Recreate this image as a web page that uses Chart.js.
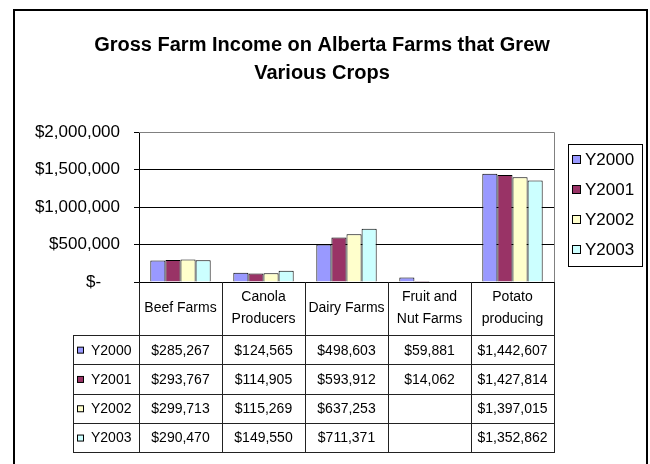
<!DOCTYPE html>
<html>
<head>
<meta charset="utf-8">
<script src="https://cdn.jsdelivr.net/npm/chart.js@4"></script>
<style>
    html, body { margin: 0; padding: 0; background: #fff; }
    #wrap { width: 650px; height: 464px; }
</style>
</head>
<body>
<div id="wrap"><canvas id="farmChart" width="650" height="464"></canvas></div>
<script>
// Farm types and the gross income per year
const titleLines = ['Gross Farm Income on Alberta Farms that Grew', 'Various Crops'];
const categories = ['Beef Farms', 'Canola Producers', 'Dairy Farms', 'Fruit and Nut Farms', 'Potato producing'];
const headerLines = [['Beef Farms'], ['Canola', 'Producers'], ['Dairy Farms'], ['Fruit and', 'Nut Farms'], ['Potato', 'producing']];
const seriesNames = ['Y2000', 'Y2001', 'Y2002', 'Y2003'];
const y2000 = [285267, 124565, 498603, 59881, 1442607];
const y2001 = [293767, 114905, 593912, 14062, 1427814];
const y2002 = [299713, 115269, 637253, null, 1397015];
const y2003 = [290470, 149550, 711371, null, 1352862];
const yTicks = [0, 500000, 1000000, 1500000, 2000000];

const colors = ['#9999FF', '#993366', '#FFFFCC', '#CCFFFF'];
const FONT = "'Liberation Sans', Arial, sans-serif";

const money = v => '$' + v.toLocaleString('en-US');

// outer frame, title, plot border, legend box and data table under the bars
const excelBits = {
    id: 'excelBits',
    beforeDraw(chart) {
        const ctx = chart.ctx;
        ctx.save();
        ctx.fillStyle = '#fff';
        ctx.fillRect(0, 0, chart.width, chart.height);
        ctx.strokeStyle = '#000';
        ctx.lineWidth = 2;
        ctx.strokeRect(14, 10, 633, 480);

        ctx.fillStyle = '#000';
        ctx.font = 'bold 20px ' + FONT;
        ctx.textAlign = 'center';
        ctx.textBaseline = 'middle';
        titleLines.forEach((t, k) => ctx.fillText(t, 322, 45 + k * 28));
        ctx.restore();
    },
    afterDraw(chart) {
        const ctx = chart.ctx;
        const area = chart.chartArea;
        const x = chart.scales.x;
        const n = categories.length;
        const colW = (area.right - area.left) / n;

        ctx.save();
        // grey plot border top / right
        ctx.strokeStyle = '#808080';
        ctx.lineWidth = 1;
        ctx.beginPath();
        ctx.moveTo(area.left, area.top + 0.5);
        ctx.lineTo(area.right + 0.5, area.top + 0.5);
        ctx.lineTo(area.right + 0.5, area.bottom);
        ctx.stroke();

        // data table
        const tableLeft = 73;
        const headTop = area.bottom;
        const headH = 53;
        const rowH = 29.3;
        const bodyTop = headTop + headH;
        const tableBottom = bodyTop + rowH * seriesNames.length;

        ctx.strokeStyle = '#222';
        ctx.beginPath();
        for (let i = 0; i <= n; i++) {
            const lx = Math.round(area.left + colW * i) + 0.5;
            ctx.moveTo(lx, headTop);
            ctx.lineTo(lx, tableBottom);
        }
        ctx.moveTo(tableLeft + 0.5, bodyTop);
        ctx.lineTo(tableLeft + 0.5, tableBottom);
        for (let r = 0; r <= seriesNames.length; r++) {
            const ly = Math.round(bodyTop + rowH * r) + 0.5;
            ctx.moveTo(tableLeft, ly);
            ctx.lineTo(area.right + 1, ly);
        }
        ctx.stroke();

        ctx.fillStyle = '#000';
        ctx.font = '14px ' + FONT;
        ctx.textAlign = 'center';
        ctx.textBaseline = 'middle';
        headerLines.forEach((lines, i) => {
            const cx = x.getPixelForValue(i);
            const cy = headTop + headH / 2;
            lines.forEach((t, k) => {
                ctx.fillText(t, cx, cy + (k - (lines.length - 1) / 2) * 22);
            });
        });

        chart.data.datasets.forEach((ds, r) => {
            const cy = bodyTop + rowH * r + rowH / 2 + 1;
            ctx.fillStyle = ds.backgroundColor;
            ctx.fillRect(77.5, cy - 3.5, 6, 6);
            ctx.strokeStyle = '#000';
            ctx.strokeRect(77.5, cy - 3.5, 6, 6);
            ctx.fillStyle = '#000';
            ctx.textAlign = 'left';
            ctx.fillText(ds.label, 91, cy);
            ctx.textAlign = 'center';
            ds.data.forEach((v, i) => {
                if (v == null) return;
                ctx.fillText(money(v), x.getPixelForValue(i), cy);
            });
        });

        // legend box
        ctx.strokeStyle = '#000';
        ctx.strokeRect(568.5, 144.5, 74, 122);
        ctx.font = '17px ' + FONT;
        ctx.textAlign = 'left';
        chart.data.datasets.forEach((ds, r) => {
            const cy = 160 + r * 30;
            ctx.fillStyle = ds.backgroundColor;
            ctx.fillRect(572.5, cy - 4.5, 8, 8);
            ctx.strokeRect(572.5, cy - 4.5, 8, 8);
            ctx.fillStyle = '#000';
            ctx.fillText(ds.label, 585, cy);
        });
        ctx.restore();
    }
};

const seriesData = [y2000, y2001, y2002, y2003];

new Chart(document.getElementById('farmChart'), {
    type: 'bar',
    data: {
        labels: categories,
        datasets: seriesNames.map((name, i) => ({
            label: name,
            data: seriesData[i],
            backgroundColor: colors[i],
            borderColor: '#000',
            borderWidth: 1,
            categoryPercentage: 4 / 5.5,
            barPercentage: 1
        }))
    },
    options: {
        responsive: false,
        animation: false,
        layout: { padding: { left: 0, right: 96, top: 132, bottom: 182 } },
        plugins: {
            legend: { display: false },
            tooltip: { enabled: false },
            title: { display: false }
        },
        scales: {
            x: {
                ticks: { display: false },
                grid: { display: false },
                border: { display: true, color: '#000' },
                afterFit(scale) { scale.height = 0; }
            },
            y: {
                min: 0,
                max: 2000000,
                afterBuildTicks(scale) { scale.ticks = yTicks.map(v => ({ value: v })); },
                ticks: {
                    color: '#000',
                    padding: 14,
                    font: { family: FONT, size: 17 },
                    callback: v => v === 0 ? '$-    ' : money(v)
                },
                grid: { color: '#000', tickLength: 5, tickColor: '#000' },
                border: { display: true, color: '#000' },
                afterFit(scale) { scale.width = 139; }
            }
        }
    },
    plugins: [excelBits]
});
</script>
</body>
</html>
